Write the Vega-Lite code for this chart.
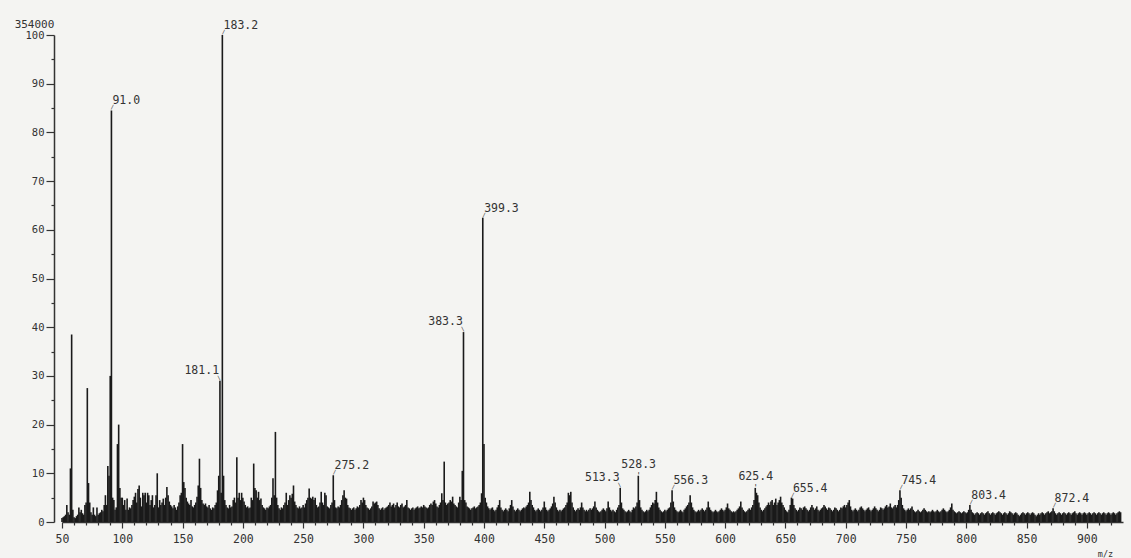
{
"$schema": "https://vega.github.io/schema/vega-lite/v6.json",
"width": 1061, "height": 487,
"autosize": "none",
"padding": {"left": 62, "right": 8, "top": 35, "bottom": 36},
"background": "#f4f4f2",
"config": {"view": {"stroke": null}, "font": "DejaVu Sans Mono",
 "axis": {"grid": false, "domainColor": "#333333", "tickColor": "#333333", "labelColor": "#333333", "labelFont": "DejaVu Sans Mono", "labelFontSize": 10, "domainWidth": 1.5, "tickWidth": 1.2, "titleFont": "DejaVu Sans Mono", "titleColor": "#333333", "titleFontWeight": "normal"}},
"datasets": {
"spec": [
{"m":50,"i":0.8},{"m":51,"i":1.0},{"m":52,"i":1.2},{"m":53,"i":1.5},{"m":54,"i":3.5},{"m":55,"i":2.0},{"m":56,"i":1.5},{"m":57,"i":11},{"m":58,"i":38.5},{"m":59,"i":2.5},
{"m":60,"i":1.0},{"m":61,"i":0.8},{"m":62,"i":1.2},{"m":63,"i":1.5},{"m":64,"i":3.0},{"m":65,"i":2.0},{"m":66,"i":2.5},{"m":67,"i":1.8},{"m":68,"i":1.5},{"m":69,"i":3.5},
{"m":70,"i":4.0},{"m":71,"i":27.5},{"m":72,"i":8.0},{"m":73,"i":4.0},{"m":74,"i":2.0},{"m":75,"i":1.5},{"m":76,"i":3.0},{"m":77,"i":1.5},{"m":78,"i":1.2},{"m":79,"i":3.0},
{"m":80,"i":1.5},{"m":81,"i":1.8},{"m":82,"i":2.0},{"m":83,"i":2.5},{"m":84,"i":2.2},{"m":85,"i":3.5},{"m":86,"i":5.5},{"m":87,"i":3.5},{"m":88,"i":11.5},{"m":89,"i":9.5},
{"m":90,"i":30},{"m":91,"i":84.5},{"m":92,"i":5.0},{"m":93,"i":4.5},{"m":94,"i":2.5},{"m":95,"i":3.0},{"m":96,"i":16},{"m":97,"i":20},{"m":98,"i":7.0},{"m":99,"i":5.0},
{"m":100,"i":5.0},{"m":101,"i":3.5},{"m":102,"i":4.5},{"m":103,"i":2.5},{"m":104,"i":4.8},{"m":105,"i":2.5},{"m":106,"i":3.0},{"m":107,"i":2.8},{"m":108,"i":3.5},{"m":109,"i":4.5},
{"m":110,"i":5.2},{"m":111,"i":6.0},{"m":112,"i":4.0},{"m":113,"i":6.8},{"m":114,"i":7.5},{"m":115,"i":5.0},{"m":116,"i":3.2},{"m":117,"i":6.0},{"m":118,"i":5.5},{"m":119,"i":6.0},
{"m":120,"i":4.0},{"m":121,"i":6.0},{"m":122,"i":5.5},{"m":123,"i":3.5},{"m":124,"i":4.5},{"m":125,"i":5.5},{"m":126,"i":3.0},{"m":127,"i":3.5},{"m":128,"i":5.5},{"m":129,"i":10},
{"m":130,"i":3.0},{"m":131,"i":4.5},{"m":132,"i":3.5},{"m":133,"i":4.0},{"m":134,"i":4.8},{"m":135,"i":3.5},{"m":136,"i":5.0},{"m":137,"i":7.2},{"m":138,"i":5.5},{"m":139,"i":4.2},
{"m":140,"i":3.5},{"m":141,"i":3.2},{"m":142,"i":2.8},{"m":143,"i":3.5},{"m":144,"i":3.0},{"m":145,"i":2.5},{"m":146,"i":3.2},{"m":147,"i":4.0},{"m":148,"i":5.5},{"m":149,"i":6.0},
{"m":150,"i":16},{"m":151,"i":8.2},{"m":152,"i":7.0},{"m":153,"i":5.0},{"m":154,"i":4.2},{"m":155,"i":3.8},{"m":156,"i":3.5},{"m":157,"i":4.5},{"m":158,"i":3.2},{"m":159,"i":3.0},
{"m":160,"i":3.5},{"m":161,"i":4.0},{"m":162,"i":5.2},{"m":163,"i":7.5},{"m":164,"i":13},{"m":165,"i":7.0},{"m":166,"i":4.5},{"m":167,"i":3.8},{"m":168,"i":3.5},{"m":169,"i":3.8},
{"m":170,"i":3.2},{"m":171,"i":3.0},{"m":172,"i":3.5},{"m":173,"i":2.8},{"m":174,"i":2.5},{"m":175,"i":3.0},{"m":176,"i":2.8},{"m":177,"i":3.5},{"m":178,"i":4.0},{"m":179,"i":6.5},
{"m":180,"i":9.5},{"m":181,"i":29},{"m":182,"i":6.0},{"m":183,"i":100},{"m":184,"i":9.5},{"m":185,"i":4.5},{"m":186,"i":3.5},{"m":187,"i":3.0},{"m":188,"i":2.8},{"m":189,"i":3.5},
{"m":190,"i":3.0},{"m":191,"i":3.2},{"m":192,"i":4.5},{"m":193,"i":5.0},{"m":194,"i":4.0},{"m":195,"i":13.3},{"m":196,"i":5.0},{"m":197,"i":6.0},{"m":198,"i":4.5},{"m":199,"i":6.0},
{"m":200,"i":5.0},{"m":201,"i":4.2},{"m":202,"i":3.5},{"m":203,"i":3.0},{"m":204,"i":3.2},{"m":205,"i":2.8},{"m":206,"i":3.0},{"m":207,"i":5.0},{"m":208,"i":4.5},{"m":209,"i":12},
{"m":210,"i":7.0},{"m":211,"i":6.5},{"m":212,"i":5.0},{"m":213,"i":6.2},{"m":214,"i":4.5},{"m":215,"i":4.8},{"m":216,"i":3.5},{"m":217,"i":3.0},{"m":218,"i":2.8},{"m":219,"i":2.5},
{"m":220,"i":3.0},{"m":221,"i":2.8},{"m":222,"i":3.2},{"m":223,"i":3.5},{"m":224,"i":5.0},{"m":225,"i":9.0},{"m":226,"i":5.5},{"m":227,"i":18.5},{"m":228,"i":5.0},{"m":229,"i":3.5},
{"m":230,"i":2.8},{"m":231,"i":2.5},{"m":232,"i":3.0},{"m":233,"i":2.8},{"m":234,"i":3.5},{"m":235,"i":4.0},{"m":236,"i":6.0},{"m":237,"i":3.5},{"m":238,"i":4.5},{"m":239,"i":5.5},
{"m":240,"i":5.0},{"m":241,"i":5.8},{"m":242,"i":7.5},{"m":243,"i":4.2},{"m":244,"i":3.5},{"m":245,"i":3.0},{"m":246,"i":2.8},{"m":247,"i":3.2},{"m":248,"i":2.8},{"m":249,"i":3.0},
{"m":250,"i":3.5},{"m":251,"i":3.0},{"m":252,"i":3.8},{"m":253,"i":4.5},{"m":254,"i":5.0},{"m":255,"i":6.9},{"m":256,"i":5.0},{"m":257,"i":4.8},{"m":258,"i":5.2},{"m":259,"i":4.5},
{"m":260,"i":5.0},{"m":261,"i":3.5},{"m":262,"i":3.0},{"m":263,"i":3.2},{"m":264,"i":4.0},{"m":265,"i":6.2},{"m":266,"i":4.0},{"m":267,"i":3.5},{"m":268,"i":6.0},{"m":269,"i":5.5},
{"m":270,"i":3.2},{"m":271,"i":3.0},{"m":272,"i":2.8},{"m":273,"i":3.5},{"m":274,"i":4.0},{"m":275,"i":9.6},{"m":276,"i":4.5},{"m":277,"i":3.0},{"m":278,"i":2.8},{"m":279,"i":3.2},
{"m":280,"i":3.0},{"m":281,"i":3.5},{"m":282,"i":4.5},{"m":283,"i":5.5},{"m":284,"i":6.5},{"m":285,"i":5.0},{"m":286,"i":4.8},{"m":287,"i":3.5},{"m":288,"i":3.0},{"m":289,"i":2.8},
{"m":290,"i":2.5},{"m":291,"i":2.8},{"m":292,"i":3.0},{"m":293,"i":2.5},{"m":294,"i":2.8},{"m":295,"i":3.2},{"m":296,"i":3.0},{"m":297,"i":3.5},{"m":298,"i":4.5},{"m":299,"i":4.0},
{"m":300,"i":5.0},{"m":301,"i":4.5},{"m":302,"i":3.5},{"m":303,"i":3.0},{"m":304,"i":2.8},{"m":305,"i":2.5},{"m":306,"i":2.8},{"m":307,"i":3.2},{"m":308,"i":4.2},{"m":309,"i":3.8},
{"m":310,"i":4.0},{"m":311,"i":4.2},{"m":312,"i":3.5},{"m":313,"i":2.8},{"m":314,"i":2.5},{"m":315,"i":2.8},{"m":316,"i":3.0},{"m":317,"i":2.5},{"m":318,"i":2.8},{"m":319,"i":3.0},
{"m":320,"i":3.2},{"m":321,"i":3.5},{"m":322,"i":4.0},{"m":323,"i":3.2},{"m":324,"i":3.5},{"m":325,"i":3.8},{"m":326,"i":3.0},{"m":327,"i":3.5},{"m":328,"i":4.0},{"m":329,"i":3.2},
{"m":330,"i":3.0},{"m":331,"i":3.5},{"m":332,"i":3.8},{"m":333,"i":3.0},{"m":334,"i":3.2},{"m":335,"i":3.5},{"m":336,"i":4.5},{"m":337,"i":3.0},{"m":338,"i":2.8},{"m":339,"i":2.5},
{"m":340,"i":2.8},{"m":341,"i":3.0},{"m":342,"i":2.5},{"m":343,"i":2.8},{"m":344,"i":3.0},{"m":345,"i":3.2},{"m":346,"i":2.8},{"m":347,"i":3.0},{"m":348,"i":3.2},{"m":349,"i":3.0},
{"m":350,"i":3.5},{"m":351,"i":3.2},{"m":352,"i":3.0},{"m":353,"i":2.8},{"m":354,"i":3.0},{"m":355,"i":3.5},{"m":356,"i":3.8},{"m":357,"i":3.5},{"m":358,"i":4.2},{"m":359,"i":4.5},
{"m":360,"i":3.8},{"m":361,"i":3.2},{"m":362,"i":3.0},{"m":363,"i":3.5},{"m":364,"i":4.0},{"m":365,"i":5.9},{"m":366,"i":4.5},{"m":367,"i":12.4},{"m":368,"i":4.0},{"m":369,"i":3.5},
{"m":370,"i":3.8},{"m":371,"i":4.0},{"m":372,"i":4.5},{"m":373,"i":4.2},{"m":374,"i":5.2},{"m":375,"i":3.8},{"m":376,"i":3.5},{"m":377,"i":3.2},{"m":378,"i":3.0},{"m":379,"i":4.0},
{"m":380,"i":5.2},{"m":381,"i":4.5},{"m":382,"i":10.5},{"m":383,"i":39},{"m":384,"i":4.5},{"m":385,"i":4.0},{"m":386,"i":3.2},{"m":387,"i":3.0},{"m":388,"i":2.8},{"m":389,"i":2.5},
{"m":390,"i":2.8},{"m":391,"i":3.0},{"m":392,"i":3.2},{"m":393,"i":2.8},{"m":394,"i":3.0},{"m":395,"i":3.2},{"m":396,"i":3.5},{"m":397,"i":4.0},{"m":398,"i":5.9},{"m":399,"i":62.5},
{"m":400,"i":16},{"m":401,"i":5.0},{"m":402,"i":4.0},{"m":403,"i":3.2},{"m":404,"i":2.8},{"m":405,"i":2.5},{"m":406,"i":2.8},{"m":407,"i":3.0},{"m":408,"i":2.5},{"m":409,"i":2.2},
{"m":410,"i":2.5},{"m":411,"i":3.0},{"m":412,"i":3.5},{"m":413,"i":4.5},{"m":414,"i":3.0},{"m":415,"i":2.5},{"m":416,"i":2.2},{"m":417,"i":2.5},{"m":418,"i":2.8},{"m":419,"i":2.5},
{"m":420,"i":2.2},{"m":421,"i":2.8},{"m":422,"i":3.5},{"m":423,"i":4.5},{"m":424,"i":3.2},{"m":425,"i":2.5},{"m":426,"i":2.2},{"m":427,"i":2.5},{"m":428,"i":2.8},{"m":429,"i":2.5},
{"m":430,"i":2.2},{"m":431,"i":2.5},{"m":432,"i":2.8},{"m":433,"i":3.0},{"m":434,"i":2.8},{"m":435,"i":3.2},{"m":436,"i":3.5},{"m":437,"i":4.0},{"m":438,"i":6.2},{"m":439,"i":4.5},
{"m":440,"i":3.5},{"m":441,"i":3.0},{"m":442,"i":2.5},{"m":443,"i":2.2},{"m":444,"i":2.5},{"m":445,"i":2.8},{"m":446,"i":2.5},{"m":447,"i":2.2},{"m":448,"i":2.5},{"m":449,"i":3.0},
{"m":450,"i":4.2},{"m":451,"i":3.0},{"m":452,"i":2.5},{"m":453,"i":2.2},{"m":454,"i":2.5},{"m":455,"i":2.8},{"m":456,"i":3.2},{"m":457,"i":3.8},{"m":458,"i":5.2},{"m":459,"i":4.0},
{"m":460,"i":3.0},{"m":461,"i":2.5},{"m":462,"i":2.2},{"m":463,"i":2.5},{"m":464,"i":2.2},{"m":465,"i":2.5},{"m":466,"i":2.8},{"m":467,"i":3.0},{"m":468,"i":3.5},{"m":469,"i":4.0},
{"m":470,"i":6.0},{"m":471,"i":5.5},{"m":472,"i":6.2},{"m":473,"i":4.0},{"m":474,"i":3.0},{"m":475,"i":2.5},{"m":476,"i":2.2},{"m":477,"i":2.5},{"m":478,"i":2.8},{"m":479,"i":2.5},
{"m":480,"i":3.0},{"m":481,"i":4.0},{"m":482,"i":3.0},{"m":483,"i":2.5},{"m":484,"i":2.2},{"m":485,"i":2.5},{"m":486,"i":2.2},{"m":487,"i":2.5},{"m":488,"i":2.8},{"m":489,"i":2.5},
{"m":490,"i":2.8},{"m":491,"i":3.2},{"m":492,"i":4.2},{"m":493,"i":3.0},{"m":494,"i":2.5},{"m":495,"i":2.2},{"m":496,"i":2.0},{"m":497,"i":2.2},{"m":498,"i":2.5},{"m":499,"i":2.8},
{"m":500,"i":2.5},{"m":501,"i":2.2},{"m":502,"i":2.8},{"m":503,"i":4.2},{"m":504,"i":3.0},{"m":505,"i":2.5},{"m":506,"i":2.2},{"m":507,"i":2.5},{"m":508,"i":2.2},{"m":509,"i":2.0},
{"m":510,"i":2.5},{"m":511,"i":3.0},{"m":512,"i":3.5},{"m":513,"i":7.0},{"m":514,"i":4.0},{"m":515,"i":2.8},{"m":516,"i":2.5},{"m":517,"i":2.2},{"m":518,"i":2.0},{"m":519,"i":2.2},
{"m":520,"i":2.5},{"m":521,"i":2.2},{"m":522,"i":2.0},{"m":523,"i":2.5},{"m":524,"i":3.0},{"m":525,"i":2.8},{"m":526,"i":3.2},{"m":527,"i":4.0},{"m":528,"i":9.5},{"m":529,"i":4.5},
{"m":530,"i":3.0},{"m":531,"i":2.5},{"m":532,"i":2.2},{"m":533,"i":2.0},{"m":534,"i":2.2},{"m":535,"i":2.5},{"m":536,"i":2.2},{"m":537,"i":2.5},{"m":538,"i":3.0},{"m":539,"i":3.5},
{"m":540,"i":4.0},{"m":541,"i":3.8},{"m":542,"i":4.5},{"m":543,"i":6.2},{"m":544,"i":4.0},{"m":545,"i":3.0},{"m":546,"i":2.5},{"m":547,"i":2.2},{"m":548,"i":2.0},{"m":549,"i":2.2},
{"m":550,"i":2.5},{"m":551,"i":2.2},{"m":552,"i":2.5},{"m":553,"i":2.8},{"m":554,"i":3.0},{"m":555,"i":4.0},{"m":556,"i":6.5},{"m":557,"i":4.2},{"m":558,"i":3.0},{"m":559,"i":2.5},
{"m":560,"i":2.2},{"m":561,"i":2.0},{"m":562,"i":2.2},{"m":563,"i":2.5},{"m":564,"i":2.2},{"m":565,"i":2.0},{"m":566,"i":2.5},{"m":567,"i":2.8},{"m":568,"i":3.2},{"m":569,"i":3.5},
{"m":570,"i":4.0},{"m":571,"i":5.5},{"m":572,"i":4.0},{"m":573,"i":3.0},{"m":574,"i":2.5},{"m":575,"i":2.2},{"m":576,"i":2.0},{"m":577,"i":2.2},{"m":578,"i":2.5},{"m":579,"i":2.2},
{"m":580,"i":2.5},{"m":581,"i":2.8},{"m":582,"i":2.5},{"m":583,"i":2.2},{"m":584,"i":2.5},{"m":585,"i":3.0},{"m":586,"i":4.2},{"m":587,"i":3.0},{"m":588,"i":2.5},{"m":589,"i":2.2},
{"m":590,"i":2.0},{"m":591,"i":2.2},{"m":592,"i":2.5},{"m":593,"i":2.2},{"m":594,"i":2.0},{"m":595,"i":2.2},{"m":596,"i":2.5},{"m":597,"i":2.8},{"m":598,"i":2.5},{"m":599,"i":2.2},
{"m":600,"i":2.5},{"m":601,"i":3.0},{"m":602,"i":3.8},{"m":603,"i":2.8},{"m":604,"i":2.5},{"m":605,"i":2.2},{"m":606,"i":2.0},{"m":607,"i":2.2},{"m":608,"i":2.0},{"m":609,"i":2.2},
{"m":610,"i":2.5},{"m":611,"i":2.8},{"m":612,"i":3.2},{"m":613,"i":4.2},{"m":614,"i":3.0},{"m":615,"i":2.5},{"m":616,"i":2.2},{"m":617,"i":2.0},{"m":618,"i":2.2},{"m":619,"i":2.5},
{"m":620,"i":2.8},{"m":621,"i":2.5},{"m":622,"i":3.0},{"m":623,"i":3.5},{"m":624,"i":4.5},{"m":625,"i":7.0},{"m":626,"i":6.0},{"m":627,"i":5.5},{"m":628,"i":4.0},{"m":629,"i":3.0},
{"m":630,"i":2.5},{"m":631,"i":2.2},{"m":632,"i":2.5},{"m":633,"i":2.8},{"m":634,"i":3.2},{"m":635,"i":3.5},{"m":636,"i":4.0},{"m":637,"i":3.5},{"m":638,"i":4.2},{"m":639,"i":4.5},
{"m":640,"i":3.5},{"m":641,"i":4.0},{"m":642,"i":4.8},{"m":643,"i":3.5},{"m":644,"i":4.0},{"m":645,"i":4.5},{"m":646,"i":5.2},{"m":647,"i":4.0},{"m":648,"i":3.5},{"m":649,"i":3.0},
{"m":650,"i":2.5},{"m":651,"i":2.2},{"m":652,"i":2.0},{"m":653,"i":2.5},{"m":654,"i":3.5},{"m":655,"i":5.0},{"m":656,"i":4.8},{"m":657,"i":3.5},{"m":658,"i":2.8},{"m":659,"i":2.5},
{"m":660,"i":2.2},{"m":661,"i":2.5},{"m":662,"i":3.0},{"m":663,"i":2.8},{"m":664,"i":2.5},{"m":665,"i":3.0},{"m":666,"i":3.2},{"m":667,"i":2.8},{"m":668,"i":2.5},{"m":669,"i":2.2},
{"m":670,"i":2.5},{"m":671,"i":3.0},{"m":672,"i":3.5},{"m":673,"i":3.0},{"m":674,"i":2.5},{"m":675,"i":2.8},{"m":676,"i":3.2},{"m":677,"i":2.5},{"m":678,"i":2.2},{"m":679,"i":2.5},
{"m":680,"i":2.8},{"m":681,"i":3.0},{"m":682,"i":3.5},{"m":683,"i":3.2},{"m":684,"i":2.8},{"m":685,"i":2.5},{"m":686,"i":3.0},{"m":687,"i":2.8},{"m":688,"i":2.5},{"m":689,"i":2.2},
{"m":690,"i":2.5},{"m":691,"i":3.0},{"m":692,"i":2.8},{"m":693,"i":2.5},{"m":694,"i":2.2},{"m":695,"i":2.5},{"m":696,"i":3.0},{"m":697,"i":2.8},{"m":698,"i":3.2},{"m":699,"i":3.5},
{"m":700,"i":3.0},{"m":701,"i":3.5},{"m":702,"i":4.0},{"m":703,"i":4.5},{"m":704,"i":3.2},{"m":705,"i":2.5},{"m":706,"i":2.2},{"m":707,"i":2.5},{"m":708,"i":2.8},{"m":709,"i":2.5},
{"m":710,"i":2.2},{"m":711,"i":2.5},{"m":712,"i":3.0},{"m":713,"i":3.2},{"m":714,"i":2.8},{"m":715,"i":2.5},{"m":716,"i":2.2},{"m":717,"i":2.5},{"m":718,"i":2.8},{"m":719,"i":3.0},
{"m":720,"i":2.5},{"m":721,"i":2.2},{"m":722,"i":2.5},{"m":723,"i":2.8},{"m":724,"i":3.2},{"m":725,"i":2.8},{"m":726,"i":2.5},{"m":727,"i":2.2},{"m":728,"i":2.5},{"m":729,"i":3.0},
{"m":730,"i":2.8},{"m":731,"i":2.5},{"m":732,"i":2.8},{"m":733,"i":3.2},{"m":734,"i":3.5},{"m":735,"i":3.0},{"m":736,"i":3.2},{"m":737,"i":3.8},{"m":738,"i":3.0},{"m":739,"i":2.8},
{"m":740,"i":3.2},{"m":741,"i":3.5},{"m":742,"i":3.0},{"m":743,"i":3.5},{"m":744,"i":4.5},{"m":745,"i":6.5},{"m":746,"i":5.0},{"m":747,"i":3.5},{"m":748,"i":2.8},{"m":749,"i":2.5},
{"m":750,"i":2.2},{"m":751,"i":2.5},{"m":752,"i":2.8},{"m":753,"i":2.5},{"m":754,"i":2.8},{"m":755,"i":3.2},{"m":756,"i":2.5},{"m":757,"i":2.2},{"m":758,"i":2.0},{"m":759,"i":2.2},
{"m":760,"i":2.5},{"m":761,"i":2.2},{"m":762,"i":2.0},{"m":763,"i":2.2},{"m":764,"i":2.5},{"m":765,"i":2.8},{"m":766,"i":2.5},{"m":767,"i":2.2},{"m":768,"i":2.0},{"m":769,"i":2.2},
{"m":770,"i":2.0},{"m":771,"i":2.2},{"m":772,"i":2.5},{"m":773,"i":2.2},{"m":774,"i":2.0},{"m":775,"i":2.2},{"m":776,"i":2.5},{"m":777,"i":2.2},{"m":778,"i":2.0},{"m":779,"i":2.2},
{"m":780,"i":2.5},{"m":781,"i":2.8},{"m":782,"i":2.5},{"m":783,"i":2.2},{"m":784,"i":2.0},{"m":785,"i":2.2},{"m":786,"i":2.5},{"m":787,"i":3.0},{"m":788,"i":3.8},{"m":789,"i":2.5},
{"m":790,"i":2.2},{"m":791,"i":2.0},{"m":792,"i":1.8},{"m":793,"i":2.0},{"m":794,"i":2.2},{"m":795,"i":2.0},{"m":796,"i":1.8},{"m":797,"i":2.0},{"m":798,"i":2.2},{"m":799,"i":2.0},
{"m":800,"i":1.8},{"m":801,"i":2.0},{"m":802,"i":2.5},{"m":803,"i":3.5},{"m":804,"i":2.5},{"m":805,"i":2.0},{"m":806,"i":1.8},{"m":807,"i":1.5},{"m":808,"i":1.8},{"m":809,"i":2.0},
{"m":810,"i":1.8},{"m":811,"i":1.5},{"m":812,"i":1.8},{"m":813,"i":2.0},{"m":814,"i":1.8},{"m":815,"i":1.5},{"m":816,"i":1.8},{"m":817,"i":2.0},{"m":818,"i":2.2},{"m":819,"i":1.8},
{"m":820,"i":1.5},{"m":821,"i":1.8},{"m":822,"i":2.0},{"m":823,"i":1.8},{"m":824,"i":1.5},{"m":825,"i":1.8},{"m":826,"i":2.0},{"m":827,"i":2.2},{"m":828,"i":2.0},{"m":829,"i":1.8},
{"m":830,"i":1.5},{"m":831,"i":1.8},{"m":832,"i":2.0},{"m":833,"i":1.8},{"m":834,"i":1.5},{"m":835,"i":1.8},{"m":836,"i":2.2},{"m":837,"i":2.0},{"m":838,"i":1.8},{"m":839,"i":1.5},
{"m":840,"i":1.8},{"m":841,"i":2.0},{"m":842,"i":1.8},{"m":843,"i":1.5},{"m":844,"i":1.2},{"m":845,"i":1.5},{"m":846,"i":1.8},{"m":847,"i":2.0},{"m":848,"i":1.8},{"m":849,"i":1.5},
{"m":850,"i":1.8},{"m":851,"i":2.0},{"m":852,"i":1.8},{"m":853,"i":1.5},{"m":854,"i":1.8},{"m":855,"i":2.0},{"m":856,"i":1.8},{"m":857,"i":1.5},{"m":858,"i":1.2},{"m":859,"i":1.5},
{"m":860,"i":1.8},{"m":861,"i":1.5},{"m":862,"i":1.8},{"m":863,"i":2.0},{"m":864,"i":1.8},{"m":865,"i":1.5},{"m":866,"i":1.8},{"m":867,"i":2.0},{"m":868,"i":2.2},{"m":869,"i":1.8},
{"m":870,"i":2.0},{"m":871,"i":2.2},{"m":872,"i":2.8},{"m":873,"i":2.2},{"m":874,"i":1.8},{"m":875,"i":1.5},{"m":876,"i":1.8},{"m":877,"i":2.0},{"m":878,"i":1.8},{"m":879,"i":1.5},
{"m":880,"i":1.8},{"m":881,"i":2.0},{"m":882,"i":1.8},{"m":883,"i":1.5},{"m":884,"i":1.8},{"m":885,"i":2.0},{"m":886,"i":1.8},{"m":887,"i":1.5},{"m":888,"i":1.8},{"m":889,"i":2.0},
{"m":890,"i":2.2},{"m":891,"i":1.8},{"m":892,"i":1.5},{"m":893,"i":1.8},{"m":894,"i":2.0},{"m":895,"i":1.8},{"m":896,"i":1.5},{"m":897,"i":1.8},{"m":898,"i":2.0},{"m":899,"i":1.8},
{"m":900,"i":1.5},{"m":901,"i":1.8},{"m":902,"i":2.0},{"m":903,"i":1.8},{"m":904,"i":1.5},{"m":905,"i":1.8},{"m":906,"i":2.0},{"m":907,"i":1.8},{"m":908,"i":1.5},{"m":909,"i":1.8},
{"m":910,"i":2.0},{"m":911,"i":1.8},{"m":912,"i":1.5},{"m":913,"i":1.8},{"m":914,"i":2.0},{"m":915,"i":1.8},{"m":916,"i":1.5},{"m":917,"i":1.8},{"m":918,"i":2.0},{"m":919,"i":1.8},
{"m":920,"i":1.5},{"m":921,"i":1.8},{"m":922,"i":2.0},{"m":923,"i":1.8},{"m":924,"i":1.5},{"m":925,"i":1.8},{"m":926,"i":2.0},{"m":927,"i":2.2},{"m":928,"i":2.0}
],
"labels": [
{"m":91.0,"i":84.5,"t":"91.0","a":"l"},
{"m":183.2,"i":100,"t":"183.2","a":"l"},
{"m":181.1,"i":29,"t":"181.1","a":"r"},
{"m":275.2,"i":9.6,"t":"275.2","a":"l"},
{"m":383.3,"i":39,"t":"383.3","a":"r"},
{"m":399.3,"i":62.5,"t":"399.3","a":"l"},
{"m":513.3,"i":7.0,"t":"513.3","a":"r"},
{"m":528.3,"i":9.5,"t":"528.3","a":"c"},
{"m":556.3,"i":6.5,"t":"556.3","a":"l"},
{"m":625.4,"i":7.0,"t":"625.4","a":"c"},
{"m":655.4,"i":5.0,"t":"655.4","a":"l"},
{"m":745.4,"i":6.5,"t":"745.4","a":"l"},
{"m":803.4,"i":3.5,"t":"803.4","a":"l"},
{"m":872.4,"i":2.8,"t":"872.4","a":"l"}
]
},
"layer": [
{"data": {"name": "spec"},
 "mark": {"type": "rule", "strokeWidth": 1.6, "color": "#1a1a1a"},
 "encoding": {
  "x": {"field": "m", "type": "quantitative", "scale": {"domain": [50, 930], "nice": false, "zero": false},
   "axis": {"values": [50,60,70,80,90,100,110,120,130,140,150,160,170,180,190,200,210,220,230,240,250,260,270,280,290,300,310,320,330,340,350,360,370,380,390,400,410,420,430,440,450,460,470,480,490,500,510,520,530,540,550,560,570,580,590,600,610,620,630,640,650,660,670,680,690,700,710,720,730,740,750,760,770,780,790,800,810,820,830,840,850,860,870,880,890,900,910,920],
    "tickCount": 500,
    "labelExpr": "datum.value % 50 == 0 ? datum.label : ''",
    "tickSize": {"condition": {"test": "datum.value % 50 == 0", "value": 6}, "value": 3},
    "labelPadding": 5, "labelFontSize": 11.5, "labelFlush": false, "labelOverlap": false, "format": "d",
    "title": "m/z", "titleX": 1043, "titleY": 31, "titleFontSize": 8.5, "titleAlign": "center", "titleBaseline": "middle"}},
  "y": {"field": "i", "type": "quantitative", "scale": {"domain": [0, 100], "nice": false},
   "axis": {"values": [0,5,10,15,20,25,30,35,40,45,50,55,60,65,70,75,80,85,90,95,100],
    "tickCount": 500,
    "labelExpr": "datum.value % 10 == 0 ? datum.label : ''",
    "tickSize": {"condition": {"test": "datum.value % 10 == 0", "value": 8}, "value": 3},
    "labelPadding": 2, "labelFontSize": 10.5, "offset": 8, "labelOverlap": false, "format": "d",
    "title": "354000", "titleAngle": 0, "titleX": -20, "titleY": -11, "titleFontSize": 11, "titleAlign": "center", "titleBaseline": "middle"}},
  "y2": {"datum": 0}
 }},
{"data": {"name": "labels"}, "transform": [{"filter": "datum.a == 'l'"}],
 "layer": [
  {"mark": {"type": "text", "align": "left", "baseline": "alphabetic", "dx": 1, "dy": -6, "fontSize": 11.5, "color": "#333333", "font": "DejaVu Sans Mono"},
   "encoding": {"x": {"field": "m", "type": "quantitative"}, "y": {"field": "i", "type": "quantitative"}, "text": {"field": "t"}}},
  {"mark": {"type": "text", "text": "/", "align": "center", "baseline": "alphabetic", "dx": 1, "dy": -1, "fontSize": 6, "color": "#333333"},
   "encoding": {"x": {"field": "m", "type": "quantitative"}, "y": {"field": "i", "type": "quantitative"}}}
 ]},
{"data": {"name": "labels"}, "transform": [{"filter": "datum.a == 'r'"}],
 "layer": [
  {"mark": {"type": "text", "align": "right", "baseline": "alphabetic", "dx": -1, "dy": -7, "fontSize": 11.5, "color": "#333333", "font": "DejaVu Sans Mono"},
   "encoding": {"x": {"field": "m", "type": "quantitative"}, "y": {"field": "i", "type": "quantitative"}, "text": {"field": "t"}}},
  {"mark": {"type": "text", "text": "\\", "align": "center", "baseline": "alphabetic", "dx": -1, "dy": -1, "fontSize": 6, "color": "#333333"},
   "encoding": {"x": {"field": "m", "type": "quantitative"}, "y": {"field": "i", "type": "quantitative"}}}
 ]},
{"data": {"name": "labels"}, "transform": [{"filter": "datum.a == 'c'"}],
 "layer": [
  {"mark": {"type": "text", "align": "center", "baseline": "alphabetic", "dx": 0, "dy": -8, "fontSize": 11.5, "color": "#333333", "font": "DejaVu Sans Mono"},
   "encoding": {"x": {"field": "m", "type": "quantitative"}, "y": {"field": "i", "type": "quantitative"}, "text": {"field": "t"}}},
  {"mark": {"type": "text", "text": "'", "align": "center", "baseline": "alphabetic", "dx": 0, "dy": 3, "fontSize": 8, "color": "#333333"},
   "encoding": {"x": {"field": "m", "type": "quantitative"}, "y": {"field": "i", "type": "quantitative"}}}
 ]}
]
}
